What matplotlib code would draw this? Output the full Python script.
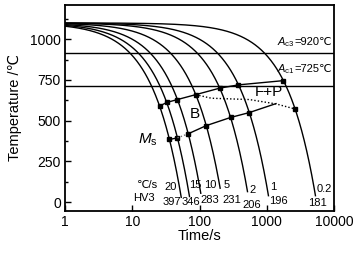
import numpy as np
import matplotlib
matplotlib.use("Agg")
import matplotlib.pyplot as plt

plt.rcParams['font.family'] = ['Liberation Sans', 'DejaVu Sans']
plt.rcParams['mathtext.fontset'] = 'custom'
plt.rcParams['mathtext.rm'] = 'Liberation Sans'
plt.rcParams['mathtext.it'] = 'Liberation Sans:italic'

# ---- data ----
rates = [20, 15, 10, 5, 2, 1, 0.2]                 # cooling rate, degC/s
hardness = [397, 346, 283, 231, 206, 196, 181]      # HV3
T_austen = 1100                                     # start temperature
T_end = [30, 35, 55, 86, 65, 40, 40]                # where each curve stops

# transformation start line (solid)
start_t = [25.5, 32.5, 47, 88, 200, 380, 1770]
start_T = [590, 612, 630, 660, 700, 720, 746]
# F+P finish line (dotted)
fp_t = [88, 150, 550, 1380, 2640]
fp_T = [660, 638, 630, 603, 572]
# Ms line
ms_t = [35.75, 47]
ms_T = [385, 395]
ms_dot_t = [47, 68]
ms_dot_T = [395, 420]
# bainite finish line (solid)
bf_t = [68, 126, 290, 550, 1370]
bf_T = [420, 470, 520, 550, 605]

Ac3 = 915
Ac1 = 712

# label positions
rate_lbl_x = [36.9, 87.3, 144.5, 255, 617, 1248, 7110]
rate_lbl_y = [92, 106, 106, 106, 75, 92, 80]
hv_lbl_x = [38.1, 75.4, 144, 303, 600, 1480, 5600]
hv_lbl_y = [4, 4, 14, 14, -17, 8, -6]

fig = plt.figure(figsize=(3.61, 2.57), dpi=100)
ax = fig.add_axes([65/361, (257-210.7)/257, (334-65)/361, (210.7-5)/257])
ax.set_xscale('log')
ax.set_xlim(1, 10000)
ax.set_ylim(-52, 1210)

lw = 1.0
for r, te in zip(rates, T_end):
    t = np.geomspace(1, (T_austen - te) / r, 400)
    ax.plot(t, T_austen - r * t, color='black', lw=lw)

ax.axhline(Ac3, color='black', lw=lw)
ax.axhline(Ac1, color='black', lw=lw)

ms = 3.2
ax.plot(start_t, start_T, color='black', lw=lw, marker='s', ms=ms)
ax.plot(fp_t, fp_T, color='black', lw=lw, ls=(0, (1, 1.5)))
ax.plot(fp_t[-1:], fp_T[-1:], color='black', marker='s', ms=ms, ls='none')
ax.plot(ms_t, ms_T, color='black', lw=lw, marker='s', ms=ms)
ax.plot(ms_dot_t, ms_dot_T, color='0.45', lw=lw, ls=(0, (1, 1.5)))
ax.plot(bf_t, bf_T, color='black', lw=lw)
ax.plot(bf_t[:-1], bf_T[:-1], color='black', marker='s', ms=ms, ls='none')

ax.text(84, 543, 'B', fontsize=11, ha='center', va='center')
ax.text(1090, 674, 'F+P', fontsize=11, ha='center', va='center')
ax.text(24, 385, r'$M_{\rm s}$', fontsize=11, ha='right', va='center')

renderer = fig.canvas.get_renderer()
for y, tail, sub in [(962, '=920℃', 'c3'), (798, '=725℃', 'c1')]:
    tt = ax.text(9450, y, tail, fontsize=8, ha='right', va='baseline')
    w = tt.get_window_extent(renderer).width
    ax.annotate(r'$A_{\rm %s}$' % sub, xy=(9450, y), xytext=(-w, 0),
                textcoords='offset pixels', fontsize=8, ha='right', va='baseline')

fs = 8
ax.text(17.1, 106, '℃/s', fontsize=fs, ha='center', va='center')
ax.text(14.9, 25, 'HV3', fontsize=fs, ha='center', va='center')
for r, x, y in zip(rates, rate_lbl_x, rate_lbl_y):
    ax.text(x, y, f'{r:g}', fontsize=fs, ha='center', va='center')
for h, x, y in zip(hardness, hv_lbl_x, hv_lbl_y):
    ax.text(x, y, str(h), fontsize=fs, ha='center', va='center')

ax.set_xticks([1, 10, 100, 1000, 10000])
ax.set_xticklabels(['1', '10', '100', '1000', '10000'])
ax.xaxis.set_minor_locator(matplotlib.ticker.NullLocator())
ax.set_yticks([0, 250, 500, 750, 1000])
ax.set_yticks([125, 375, 625, 875, 1125], minor=True)
ax.tick_params(which='both', direction='in', labelsize=10, width=1.0)
ax.tick_params(which='major', length=4, pad=3)
ax.tick_params(which='minor', length=2)
for s in ax.spines.values():
    s.set_linewidth(1.3)

ax.set_xlabel('Time/s', fontsize=10.5, labelpad=0)
ax.set_ylabel('Temperature /℃', fontsize=10.5, labelpad=6)

fig.savefig('out.png', dpi=100)
